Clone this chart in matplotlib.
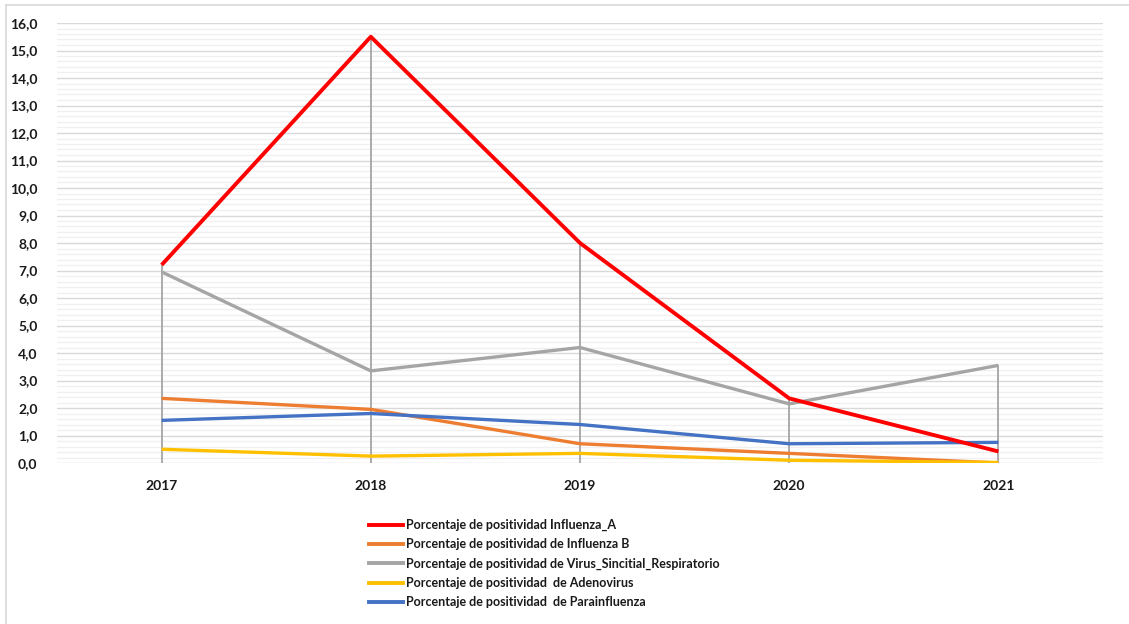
import matplotlib
matplotlib.use("Agg")
import matplotlib.pyplot as plt
from matplotlib.ticker import MultipleLocator, FuncFormatter
from matplotlib.lines import Line2D

years = ["2017", "2018", "2019", "2020", "2021"]
influenza_a = [7.2, 15.5, 8.0, 2.35, 0.42]
influenza_b = [2.35, 1.95, 0.7, 0.35, 0.0]
vsr = [6.95, 3.35, 4.2, 2.15, 3.55]
adenovirus = [0.5, 0.25, 0.35, 0.1, 0.02]
parainfluenza = [1.55, 1.8, 1.4, 0.7, 0.75]

labels = [
    "Porcentaje de positividad Influenza_A",
    "Porcentaje de positividad de Influenza B",
    "Porcentaje de positividad de Virus_Sincitial_Respiratorio",
    "Porcentaje de positividad  de Adenovirus",
    "Porcentaje de positividad  de Parainfluenza",
]
colors = ["#FF0000", "#ED7D31", "#A5A5A5", "#FFC000", "#4472C4"]
series = [influenza_a, influenza_b, vsr, adenovirus, parainfluenza]

plt.rcParams["font.family"] = ["Lato", "DejaVu Sans"]

fig = plt.figure(figsize=(11.29, 6.24), dpi=100)
ax = fig.add_axes([57 / 1129, 1 - 463 / 624, (1103 - 57) / 1129, (463 - 23) / 624])

x = list(range(len(years)))

# drop lines from the highest point of each year down to the axis
tops = [max(vals) for vals in zip(*series)]
ax.vlines(x, 0, tops, colors="#A5A5A5", linewidth=1.3, zorder=2)

zorders = [8, 4, 5, 6, 7]
widths = [2.8, 2.4, 2.4, 2.4, 2.4]
for vals, col, lab, z, w in zip(series, colors, labels, zorders, widths):
    ax.plot(x, vals, color=col, linewidth=w, label=lab, zorder=z,
            solid_capstyle="butt")

ax.set_xlim(-0.5, len(years) - 0.5)
ax.set_ylim(0, 16)
ax.yaxis.set_major_locator(MultipleLocator(1))
ax.yaxis.set_minor_locator(MultipleLocator(0.2))
ax.yaxis.set_major_formatter(FuncFormatter(lambda v, p: f"{v:.1f}".replace(".", ",")))
ax.grid(which="major", axis="y", color="#D9D9D9", linewidth=1.0, zorder=0)
ax.grid(which="minor", axis="y", color="#F0F0F0", linewidth=1.0, zorder=0)
ax.set_axisbelow(True)
for s in ["top", "right", "left", "bottom"]:
    ax.spines[s].set_visible(False)
ax.tick_params(axis="both", which="both", length=0)
ax.tick_params(axis="y", pad=14, labelsize=10)
ax.tick_params(axis="x", pad=12, labelsize=10)
ax.set_xticks(x)
ax.set_xticklabels(years)
for t in ax.get_xticklabels() + ax.get_yticklabels():
    t.set_fontweight("bold")
    t.set_color("#1a1a1a")

handles = [Line2D([0], [0], color=c, linewidth=2.8) for c in colors]
leg = fig.legend(handles, labels, loc="upper left",
                 bbox_to_anchor=(364 / 1129, 1 - 514 / 624),
                 frameon=False, fontsize=9, handlelength=2.7,
                 handletextpad=0.3, labelspacing=0.58, borderaxespad=0)
for t in leg.get_texts():
    t.set_fontweight("bold")
    t.set_color("#1a1a1a")

# chart area border (top and left edges)
fig.add_artist(Line2D([6 / 1129, 1], [1 - 5 / 624, 1 - 5 / 624],
                      transform=fig.transFigure, color="#D9D9D9", linewidth=1.2))
fig.add_artist(Line2D([6 / 1129, 6 / 1129], [0, 1 - 5 / 624],
                      transform=fig.transFigure, color="#D9D9D9", linewidth=1.2))

fig.savefig("out.png", dpi=100)
